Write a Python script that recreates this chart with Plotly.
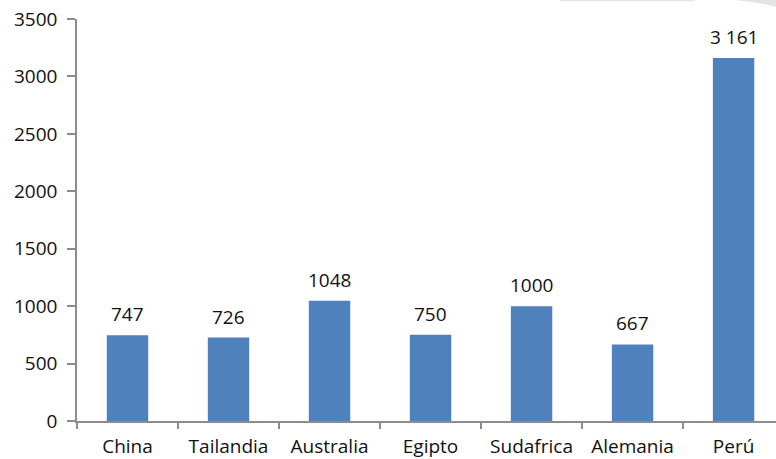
import plotly.graph_objects as go

paises = ["China", "Tailandia", "Australia", "Egipto", "Sudafrica", "Alemania", "Perú"]
valores = [747, 726, 1048, 750, 1000, 667, 3161]
etiquetas = ["747", "726", "1048", "750", "1000", "667", "3 161"]
y_ticks = [0, 500, 1000, 1500, 2000, 2500, 3000, 3500]

FONT = "Open Sans"
AZUL = "#4F81BD"
GRIS = "#8C8C8C"
TEXTO = "#111111"

W, H = 776, 459
ML, MR, MT, MB = 77, 0, 19, 38


def paper(px, py):
    """Pixel position on the page -> paper coordinates."""
    return ((px - ML) / (W - ML - MR), (H - MB - py) / (H - MT - MB))


fig = go.Figure()
fig.add_trace(go.Bar(
    x=list(range(len(paises))),
    y=valores,
    marker=dict(color=AZUL, line=dict(width=0)),
    width=0.41,
    hoverinfo="skip",
))

for i, (v, t) in enumerate(zip(valores, etiquetas)):
    fig.add_annotation(
        x=i, y=v, text=t, showarrow=False,
        yanchor="bottom", yshift=6,
        font=dict(family=FONT, size=19, color=TEXTO),
    )

# faint shading along the top edge
x0, y0 = paper(560, 0)
x1, y1 = paper(695, 1.2)
fig.add_shape(type="rect", xref="paper", yref="paper", x0=x0, y0=y0, x1=x1, y1=y1,
              fillcolor="#E6E6EA", line=dict(width=0), layer="above")
a = paper(735, 0)
b = paper(760, 2.5)
c = paper(776, 7)
d = paper(776, 0)
fig.add_shape(type="path", xref="paper", yref="paper",
              path=f"M {a[0]},{a[1]} Q {b[0]},{b[1]} {c[0]},{c[1]} L {d[0]},{d[1]} Z",
              fillcolor="#E4E4E8", line=dict(width=0), layer="above")

fig.update_layout(
    width=W, height=H,
    margin=dict(l=ML, r=MR, t=MT, b=MB),
    paper_bgcolor="white", plot_bgcolor="white",
    showlegend=False,
    font=dict(family=FONT, size=19, color=TEXTO),
    xaxis=dict(
        range=[-0.5, 6.42],
        tickmode="array",
        tickvals=list(range(len(paises))),
        ticktext=paises,
        showgrid=False, zeroline=False,
        showline=True, linecolor=GRIS, linewidth=1.5,
        ticks="", ticklabelstandoff=7,
        minor=dict(tickmode="array", tickvals=[i - 0.5 for i in range(8)],
                   ticks="outside", ticklen=6, tickcolor=GRIS, tickwidth=1.5),
        automargin=False,
        fixedrange=True,
    ),
    yaxis=dict(
        range=[0, 3500],
        tickmode="array", tickvals=y_ticks,
        showgrid=False, zeroline=False,
        showline=True, linecolor=GRIS, linewidth=1.5,
        ticks="outside", ticklen=8, tickcolor=GRIS, tickwidth=1.5,
        ticklabelstandoff=6,
        automargin=False,
        fixedrange=True,
    ),
)

fig.write_html("out.html")
